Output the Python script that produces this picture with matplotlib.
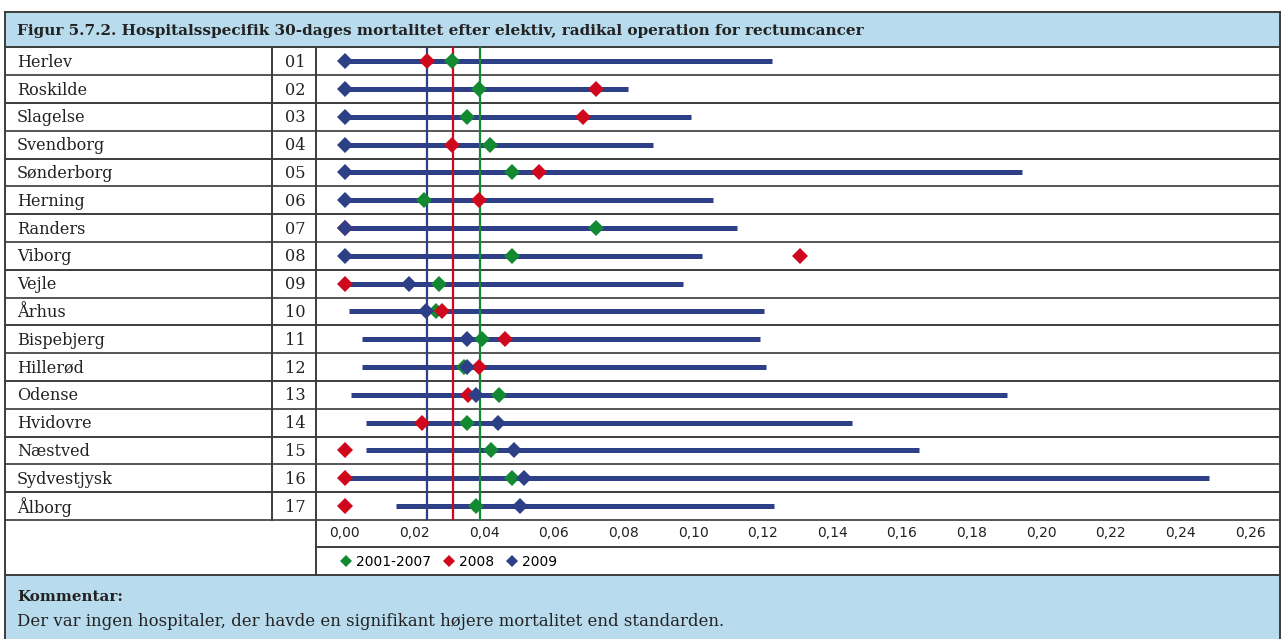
import numpy as np
import matplotlib
matplotlib.use("Agg")
import matplotlib.pyplot as plt

# ---------------- data ----------------
hospitals = ["Herlev", "Roskilde", "Slagelse", "Svendborg", "Sønderborg", "Herning",
             "Randers", "Viborg", "Vejle", "Århus", "Bispebjerg", "Hillerød",
             "Odense", "Hvidovre", "Næstved", "Sydvestjysk", "Ålborg"]
codes = ["01", "02", "03", "04", "05", "06", "07", "08", "09", "10", "11", "12",
         "13", "14", "15", "16", "17"]
val_2001_2007 = [0.0308, 0.0385, 0.0351, 0.0417, 0.0481, 0.0227, 0.0721, 0.0481, 0.0271,
                 0.0263, 0.0395, 0.0343, 0.0443, 0.0351, 0.0421, 0.0480, 0.0378]
val_2008 = [0.0237, 0.0720, 0.0683, 0.0308, 0.0558, 0.0385, 0.0, 0.1307, 0.0,
            0.0278, 0.0460, 0.0385, 0.0354, 0.0221, 0.0, 0.0, 0.0]
val_2009 = [0.0, 0.0, 0.0, 0.0, 0.0, 0.0, 0.0, 0.0, 0.0183,
            0.0234, 0.0352, 0.0352, 0.0378, 0.0439, 0.0487, 0.0514, 0.0503]
ci_low_2009 = [0.0, 0.0, 0.0, 0.0, 0.0, 0.0, 0.0, 0.0, 0.0,
               0.0011, 0.0050, 0.0050, 0.0018, 0.0060, 0.0060, 0.0, 0.0148]
ci_high_2009 = [0.1227, 0.0812, 0.0995, 0.0884, 0.1944, 0.1058, 0.1125, 0.1025, 0.0970,
                0.1203, 0.1192, 0.1209, 0.1901, 0.1456, 0.1649, 0.2481, 0.1232]
ref_2001_2007 = 0.0388
ref_2008 = 0.0311
ref_2009 = 0.0235
xticks = [0.00, 0.02, 0.04, 0.06, 0.08, 0.10, 0.12, 0.14, 0.16, 0.18, 0.20, 0.22, 0.24, 0.26]
legend_labels = ["2001-2007", "2008", "2009"]
title = "Figur 5.7.2. Hospitalsspecifik 30-dages mortalitet efter elektiv, radikal operation for rectumcancer"
comment_head = "Kommentar:"
comment_text = "Der var ingen hospitaler, der havde en signifikant højere mortalitet end standarden."

# ---------------- style ----------------
GREEN = "#138a32"
RED = "#d0081d"
BLUE = "#2d3f86"
BAND = "#b8dbed"
LINE = "#3c3c3c"
TXT = "#222222"
SERIF = "DejaVu Serif"
SANS = "DejaVu Sans"

W, H = 1284, 639
fig = plt.figure(figsize=(W / 100, H / 100), dpi=100)

# layout in pixels
L, R = 5, 1280
TOP = 12
ROWS_TOP = 47.3
ROWS_BOT = 520
n = len(hospitals)
ROW_H = (ROWS_BOT - ROWS_TOP) / n
TICK_BOT = 547
LEG_BOT = 574.5
COL1, COL2 = 272, 316

ov = fig.add_axes([0, 0, 1, 1])
ov.set_xlim(0, W)
ov.set_ylim(H, 0)
ov.axis("off")

# bands
ov.add_patch(plt.Rectangle((L, TOP), R - L, ROWS_TOP - TOP, facecolor=BAND, edgecolor="none"))
ov.add_patch(plt.Rectangle((L, LEG_BOT), R - L, H - LEG_BOT, facecolor=BAND, edgecolor="none"))

lw = 1.4
ov.plot([L, R], [TOP, TOP], color=LINE, lw=lw)
for k in range(n + 1):
    y = ROWS_TOP + k * ROW_H
    ov.plot([L, R], [y, y], color=LINE if k % 2 == 0 else "#555555", lw=lw)
ov.plot([COL2, R], [TICK_BOT, TICK_BOT], color=LINE, lw=lw)
ov.plot([L, R], [LEG_BOT, LEG_BOT], color=LINE, lw=lw)
ov.plot([L, L], [TOP, H], color=LINE, lw=lw)
ov.plot([R, R], [TOP, H], color=LINE, lw=lw)
ov.plot([COL1, COL1], [ROWS_TOP, ROWS_BOT], color=LINE, lw=lw)
ov.plot([COL2, COL2], [ROWS_TOP, LEG_BOT], color=LINE, lw=lw)

# texts
ov.text(17, (TOP + ROWS_TOP) / 2 + 1, title, fontsize=11.0, fontweight="bold",
        family=SERIF, va="center", ha="left", color=TXT)
for i, (h, c) in enumerate(zip(hospitals, codes)):
    yc = ROWS_TOP + (i + 0.5) * ROW_H + 1
    ov.text(17, yc, h, fontsize=11.6, family=SERIF, va="center", ha="left", color=TXT)
    ov.text((COL1 + COL2) / 2 + 1, yc, c, fontsize=11.6, family=SERIF, va="center",
            ha="center", color=TXT)
ov.text(17, 597, comment_head, fontsize=10.9, fontweight="bold", family=SERIF,
        va="center", ha="left", color=TXT)
ov.text(17, 621, comment_text, fontsize=11.9, family=SERIF, va="center", ha="left",
        color=TXT)

# ---------------- data axes ----------------
ax = fig.add_axes([COL2 / W, 1 - ROWS_BOT / H, (R - COL2) / W, (ROWS_BOT - ROWS_TOP) / H])
ax.set_facecolor("none")
ax.set_xlim(-0.0083, 0.2686)
ax.set_ylim(n - 0.5, -0.5)
for s in ax.spines.values():
    s.set_visible(False)
ax.set_yticks([])
ax.set_xticks(xticks)
ax.set_xticklabels([f"{v:.2f}".replace(".", ",") for v in xticks])
ax.tick_params(axis="x", length=0, pad=4.0, labelsize=10, labelcolor=TXT)
for t in ax.get_xticklabels():
    t.set_family(SANS)

ypos = np.arange(n)
ax.hlines(ypos, ci_low_2009, ci_high_2009, color=BLUE, lw=3.6, zorder=2)
ax.axvline(ref_2009, color=BLUE, lw=1.6, zorder=3)
ax.axvline(ref_2008, color=RED, lw=1.6, zorder=3)
ax.axvline(ref_2001_2007, color=GREEN, lw=1.6, zorder=3)

ms = 7.8
h1, = ax.plot(val_2001_2007, ypos, "D", color=GREEN, ms=ms, mew=0, ls="none", zorder=4,
              label=legend_labels[0])
h2, = ax.plot(val_2008, ypos, "D", color=RED, ms=ms, mew=0, ls="none", zorder=5,
              label=legend_labels[1])
h3, = ax.plot(val_2009, ypos, "D", color=BLUE, ms=ms, mew=0, ls="none", zorder=6,
              label=legend_labels[2])

fig.legend(handles=[h1, h2, h3], loc="center left",
           bbox_to_anchor=(340 / W, 1 - 562 / H), ncol=3, frameon=False,
           markerscale=0.72, handlelength=0.85, handletextpad=0.3, columnspacing=0.85,
           prop={"family": SANS, "size": 10}, borderaxespad=0, borderpad=0)

fig.savefig("out.png", dpi=100)
